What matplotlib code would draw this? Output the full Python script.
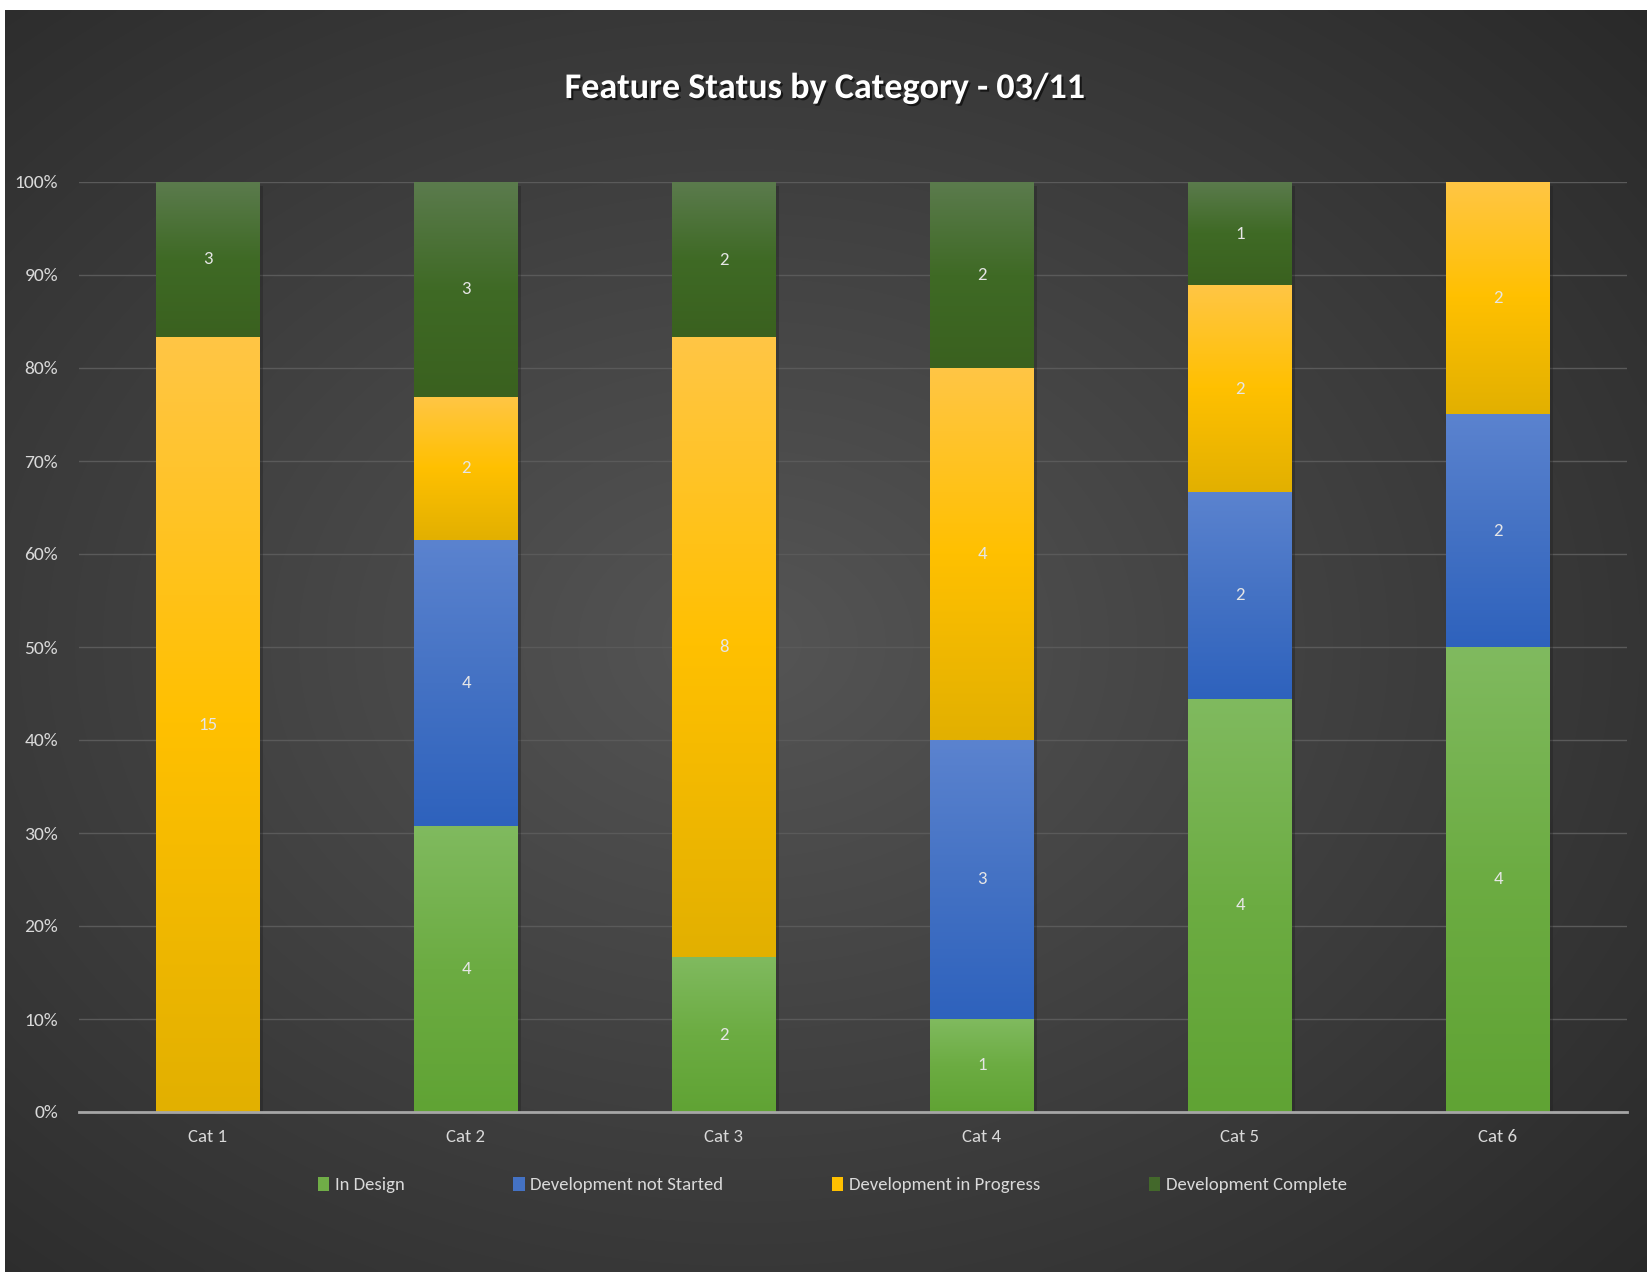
import numpy as np
import matplotlib
matplotlib.use('Agg')
import matplotlib.pyplot as plt
from matplotlib.colors import to_rgb
from matplotlib.patches import Patch
import matplotlib.patheffects as pe

plt.rcParams['font.family'] = ['Carlito', 'Lato', 'DejaVu Sans']

categories = ['Cat 1', 'Cat 2', 'Cat 3', 'Cat 4', 'Cat 5', 'Cat 6']
series_names = ['In Design', 'Development not Started',
                'Development in Progress', 'Development Complete']
in_design = [0, 4, 2, 1, 4, 4]
not_started = [0, 4, 0, 3, 2, 2]
in_progress = [15, 2, 8, 4, 2, 2]
complete = [3, 3, 2, 2, 1, 0]
ytick_values = [0, 10, 20, 30, 40, 50, 60, 70, 80, 90, 100]
title = 'Feature Status by Category - 03/11'

# (top, middle, bottom) gradient colours per series
grad_colors = [
    ('#80ba5f', '#6cac42', '#60a334'),
    ('#5b83cf', '#4472c4', '#2e62bd'),
    ('#ffc645', '#ffc000', '#e2b000'),
    ('#5b7b4d', '#3f6a25', '#3a611f'),
]
legend_colors = ['#70ad47', '#4472c4', '#ffc000', '#43682b']

W, H = 1650, 1275
fig = plt.figure(figsize=(W / 100, H / 100), dpi=100)
fig.patch.set_facecolor('white')

# background panel with radial gradient
bg = fig.add_axes([5 / W, 3 / H, 1642 / W, 1262 / H])
bg.set_axis_off()
ny, nx = 300, 400
yy, xx = np.mgrid[0:ny, 0:nx]
cx, cy = 0.45 * nx, 0.5 * ny
d = np.sqrt(((xx - cx) / (0.8 * nx)) ** 2 + ((yy - cy) / (0.8 * ny)) ** 2)
d = np.clip(d, 0, 1)
c0 = np.array(to_rgb('#555555'))
c1 = np.array(to_rgb('#262626'))
img = c0[None, None, :] * (1 - d[..., None]) + c1[None, None, :] * d[..., None]
bg.imshow(img, extent=(0, 1, 0, 1), aspect='auto', interpolation='bicubic')
bg.set_xlim(0, 1)
bg.set_ylim(0, 1)

ax = fig.add_axes([79 / W, 163 / H, 1548 / W, 930 / H])
ax.set_facecolor('none')

data = np.array([in_design, not_started, in_progress, complete], dtype=float)
totals = data.sum(axis=0)
pct = data / totals * 100
x = np.arange(len(categories))
width = 0.4

def grad_image(top, mid, bot, n=200):
    t = np.linspace(0, 1, n)[:, None]
    ct, cm, cb = (np.array(to_rgb(c)) for c in (top, mid, bot))
    out = np.where(t < 0.5, ct + (cm - ct) * (t / 0.5), cm + (cb - cm) * ((t - 0.5) / 0.5))
    return out[:, None, :] * np.ones((1, 2, 1))

bottom = np.zeros(len(categories))
for si in range(len(series_names)):
    bars = ax.bar(x, pct[si], width=width, bottom=bottom,
                  color=legend_colors[si], zorder=3, linewidth=0)
    for bi, patch in enumerate(bars):
        h = patch.get_height()
        if h <= 0:
            continue
        x0 = patch.get_x()
        y0 = patch.get_y()
        top, mid, bot = grad_colors[si]
        ax.imshow(grad_image(top, mid, bot), extent=(x0, x0 + width, y0, y0 + h),
                  aspect='auto', zorder=4, interpolation='bilinear')
        ax.text(x0 + width / 2, y0 + h / 2, str(int(data[si, bi])),
                ha='center', va='center', color='#e6e6e6', fontsize=13.5, zorder=6)
    bottom = bottom + pct[si]

# subtle shadow for full bars
for xi in x:
    ax.bar(xi + 0.006, 100, width=width + 0.012, bottom=-0.4, color='#1e1e1e',
           alpha=0.35, zorder=2, linewidth=0)

ax.set_xlim(-0.5, len(categories) - 0.5)
ax.set_ylim(0, 100)
ax.set_yticks(ytick_values)
ax.set_yticklabels([f'{v}%' for v in ytick_values])
ax.set_xticks(x)
ax.set_xticklabels(categories)
ax.tick_params(axis='both', length=0, colors='#d9d9d9')
ax.tick_params(axis='x', labelsize=13.5, pad=12)
ax.tick_params(axis='y', labelsize=14, pad=15)
ax.yaxis.grid(True, color='#5a5a5a', linewidth=1.0, zorder=1)
ax.set_axisbelow(True)
for s in ['top', 'right', 'left']:
    ax.spines[s].set_visible(False)
ax.spines['bottom'].set_color('#a6a6a6')
ax.spines['bottom'].set_linewidth(2)
ax.spines['bottom'].set_zorder(7)

fig.text(0.5, 1 - 88 / H, title, ha='center', va='center', color='white',
         fontsize=26, fontweight='bold',
         path_effects=[pe.withSimplePatchShadow(offset=(1.5, -1.5), shadow_rgbFace='black', alpha=0.6)])

handles = [Patch(facecolor=c, edgecolor='none') for c in legend_colors]
leg = fig.legend(handles, series_names, loc='center', bbox_to_anchor=(0.5045, 1 - 1185 / H),
                 ncol=4, frameon=False, fontsize=13.5, handlelength=0.6, handleheight=0.8,
                 handletextpad=0.3, columnspacing=5.8, labelcolor='#d9d9d9')

fig.savefig('out.png', dpi=100, facecolor=fig.get_facecolor())
